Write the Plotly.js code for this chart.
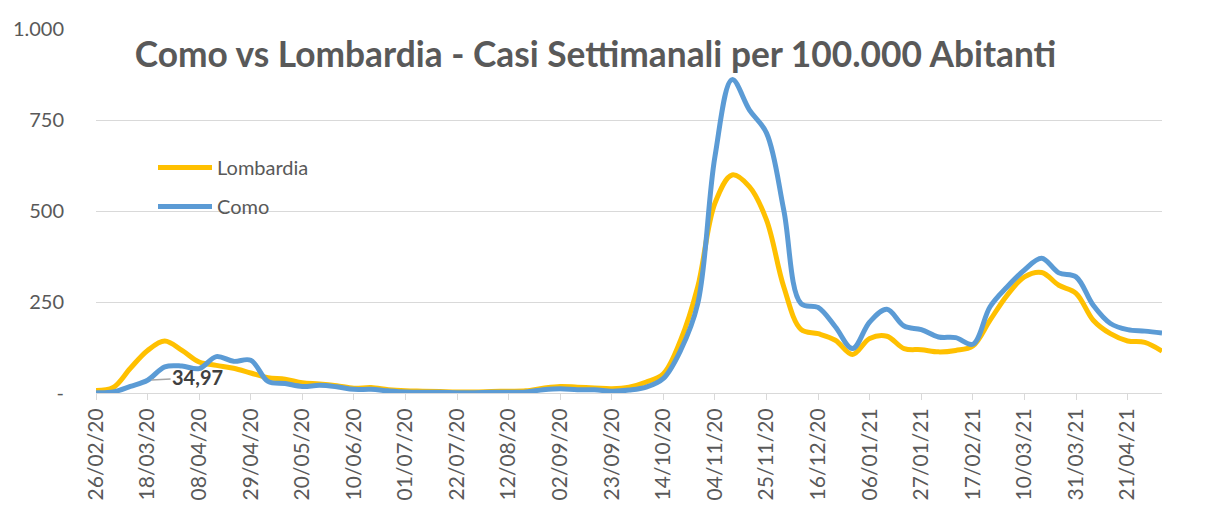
<!DOCTYPE html>
<html>
<head>
<meta charset="utf-8">
<script src="https://cdn.plot.ly/plotly-3.0.1.min.js"></script>
<style>
  html, body { margin: 0; padding: 0; background: #fff; }
  #chart { width: 1223px; height: 505px; }
</style>
</head>
<body>
<div id="chart"></div>
<script>
const dates = ["26/02/20","04/03/20","11/03/20","18/03/20","25/03/20","01/04/20","08/04/20","15/04/20","22/04/20","29/04/20",
  "06/05/20","13/05/20","20/05/20","27/05/20","03/06/20","10/06/20","17/06/20","24/06/20","01/07/20","08/07/20",
  "15/07/20","22/07/20","29/07/20","05/08/20","12/08/20","19/08/20","26/08/20","02/09/20","09/09/20","16/09/20",
  "23/09/20","30/09/20","07/10/20","14/10/20","21/10/20","28/10/20","04/11/20","11/11/20","18/11/20","25/11/20",
  "02/12/20","09/12/20","16/12/20","23/12/20","30/12/20","06/01/21","13/01/21","20/01/21","27/01/21","03/02/21",
  "10/02/21","17/02/21","24/02/21","03/03/21","10/03/21","17/03/21","24/03/21","31/03/21","07/04/21","14/04/21",
  "21/04/21","28/04/21","05/05/21"];

const lombardia = [7, 15, 68, 117, 143, 117, 85, 76, 68, 55,
  42, 38, 28, 25, 20, 13, 15, 9, 6, 5,
  4, 3, 3, 4, 5, 6, 13, 18, 16, 14,
  12, 16, 30, 53, 145, 292, 522, 599, 567, 475,
  292, 175, 163, 145, 106, 150, 156, 122, 119, 113,
  117, 129, 200, 269, 319, 331, 296, 274, 200, 163,
  143, 139, 115];

const como = [1, 3, 18, 34.97, 72, 74, 67, 100, 87, 90,
  32, 26, 18, 21, 17, 10, 10, 6, 3, 2,
  2, 1, 1, 2, 2, 3, 9, 12, 9, 9,
  5, 8, 16, 40, 117, 246, 650, 861, 778, 714,
  503, 246, 235, 182, 122, 195, 230, 184, 174, 154,
  152, 134, 237, 292, 338, 370, 330, 319, 241, 191,
  174, 170, 165];

const tickDates = ["26/02/20","18/03/20","08/04/20","29/04/20","20/05/20","10/06/20","01/07/20","22/07/20","12/08/20","02/09/20",
  "23/09/20","14/10/20","04/11/20","25/11/20","16/12/20","06/01/21","27/01/21","17/02/21","10/03/21","31/03/21","21/04/21"];

const yTickVals = [0, 250, 500, 750, 1000];
const yTickText = ["-", "250", "500", "750", "1.000"];

const labelIndex = 3;

const FONT = "Lato, 'Open Sans', sans-serif";
const GRAY = "#595959";

const traces = [
  {
    x: dates, y: lombardia, name: "Lombardia", type: "scatter", mode: "lines",
    line: { color: "#FFC000", width: 5, shape: "spline", smoothing: 1 },
    legendgroup: "a", hoverinfo: "skip"
  },
  {
    x: dates, y: como, name: "Como", type: "scatter", mode: "lines",
    line: { color: "#5B9BD5", width: 5, shape: "spline", smoothing: 1 },
    legendgroup: "b", hoverinfo: "skip"
  }
];

const layout = {
  width: 1223, height: 505,
  margin: { l: 96, r: 61, t: 29, b: 112 },
  paper_bgcolor: "#ffffff", plot_bgcolor: "#ffffff",
  font: { family: FONT, color: GRAY },
  title: {
    text: "<b>Como vs Lombardia - Casi Settimanali per 100.000 Abitanti</b>",
    font: { family: FONT, size: 35.3, color: GRAY },
    xref: "container", yref: "container",
    x: 595.5 / 1223, xanchor: "center",
    y: 1 - 55 / 505, yanchor: "middle"
  },
  xaxis: {
    type: "category",
    range: [0, dates.length - 1],
    tickmode: "array", tickvals: tickDates, ticktext: tickDates,
    tickangle: -90,
    tickfont: { family: FONT, size: 21, color: GRAY },
    ticks: "outside", ticklen: 6, tickwidth: 1, tickcolor: "#D9D9D9",
    showgrid: false, zeroline: false,
    showline: true, linecolor: "#D9D9D9", linewidth: 1,
    automargin: false, fixedrange: true
  },
  yaxis: {
    range: [0, 1000],
    tickmode: "array", tickvals: yTickVals, ticktext: yTickText,
    tickfont: { family: FONT, size: 20, color: GRAY },
    ticks: "", ticklabelstandoff: 31,
    showgrid: true, gridcolor: "#D9D9D9", gridwidth: 1,
    zeroline: false, showline: false,
    automargin: false, fixedrange: true
  },
  showlegend: true,
  legend: {
    x: (153 - 96) / 1066, xanchor: "left",
    y: 1 - (148 - 29) / 364, yanchor: "top",
    bgcolor: "rgba(0,0,0,0)",
    font: { family: FONT, size: 20, color: GRAY },
    traceorder: "grouped", tracegroupgap: 10,
    itemwidth: 54
  },
  annotations: [
    {
      x: dates[labelIndex], y: como[labelIndex], xref: "x", yref: "y",
      text: "<b>" + String(como[labelIndex]).replace(".", ",") + "</b>",
      font: { family: FONT, size: 20, color: "#404040" },
      showarrow: true, arrowhead: 0, arrowwidth: 1.5, arrowcolor: "#A6A6A6",
      ax: 50, ay: -3, standoff: 4
    }
  ]
};

Plotly.newPlot("chart", traces, layout, { displayModeBar: false, staticPlot: true });
</script>
</body>
</html>
